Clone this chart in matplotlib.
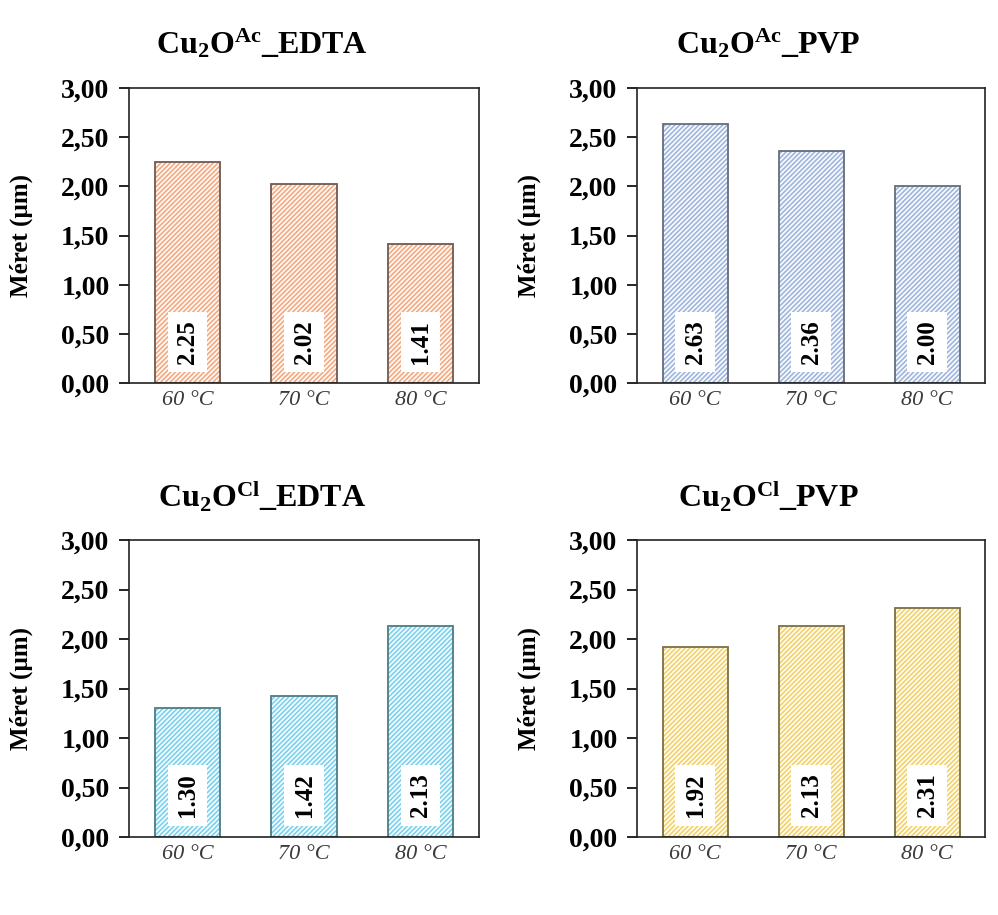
import matplotlib
matplotlib.use("Agg")
import matplotlib.pyplot as plt
import numpy as np

# Particle size (µm) vs. synthesis temperature for the four Cu2O samples
temperatures = ["60 °C", "70 °C", "80 °C"]
ac_edta = [2.25, 2.02, 1.41]
ac_pvp = [2.63, 2.36, 2.00]
cl_edta = [1.30, 1.42, 2.13]
cl_pvp = [1.92, 2.13, 2.31]

titles = [r"Cu$_{\mathrm{2}}$O$^{\mathrm{Ac}}$_EDTA",
          r"Cu$_{\mathrm{2}}$O$^{\mathrm{Ac}}$_PVP",
          r"Cu$_{\mathrm{2}}$O$^{\mathrm{Cl}}$_EDTA",
          r"Cu$_{\mathrm{2}}$O$^{\mathrm{Cl}}$_PVP"]
series = [ac_edta, ac_pvp, cl_edta, cl_pvp]
hatch_colors = ["#f4ac85", "#a3b8de", "#7fd3ee", "#f2d370"]
edge_colors = ["#6e5a52", "#646d7a", "#4d7c84", "#7a7046"]

yticks = [0.0, 0.5, 1.0, 1.5, 2.0, 2.5, 3.0]
ytick_labels = [f"{t:.2f}".replace(".", ",") for t in yticks]

plt.rcParams["font.family"] = "Liberation Serif"
plt.rcParams["mathtext.fontset"] = "custom"
plt.rcParams["mathtext.rm"] = "Liberation Serif:bold"
plt.rcParams["mathtext.it"] = "Liberation Serif:bold:italic"
plt.rcParams["mathtext.bf"] = "Liberation Serif:bold"
plt.rcParams["hatch.linewidth"] = 1.3

fig = plt.figure(figsize=(9.98, 9.15), dpi=100)

# axes rectangles: [left, bottom, width, height]
positions = [
    [0.1293, 0.5814, 0.3507, 0.3224],
    [0.6383, 0.5814, 0.3487, 0.3224],
    [0.1293, 0.0852, 0.3507, 0.3246],
    [0.6383, 0.0852, 0.3487, 0.3246],
]
# chart titles sit centred on the whole panel (x) at a fixed baseline (y)
title_xy = [(0.2625, 0.942), (0.7695, 0.942), (0.2625, 0.4455), (0.7695, 0.4455)]

x = np.arange(len(temperatures))
for pos, txy, title, vals, hc, ec in zip(positions, title_xy, titles, series,
                                          hatch_colors, edge_colors):
    ax = fig.add_axes(pos)
    # hatched fill, then a dark outline on top
    ax.bar(x, vals, width=0.56, color="white", edgecolor=hc, hatch="///////", linewidth=0)
    ax.bar(x, vals, width=0.56, fill=False, edgecolor=ec, linewidth=1.3)
    for xi, v in zip(x, vals):
        ax.text(xi, 0.42, f"{v:.2f}", rotation=90, ha="center", va="center",
                fontsize=18, fontweight="bold",
                bbox=dict(facecolor="white", edgecolor="none", pad=6))
    ax.set_xlim(-0.5, 2.5)
    ax.set_ylim(0, 3)
    ax.set_yticks(yticks)
    ax.set_yticklabels(ytick_labels, fontsize=20, fontweight="bold")
    ax.set_xticks(x)
    ax.set_xticklabels(temperatures, fontsize=16, fontstyle="italic", color="#3a3a3a")
    ax.tick_params(axis="y", direction="out", length=7, width=1.2, pad=7)
    ax.tick_params(axis="x", length=0, pad=6)
    for s in ax.spines.values():
        s.set_linewidth(1.2)
        s.set_color("#222222")
    ax.set_ylabel("Méret (µm)", fontsize=18, fontweight="bold", labelpad=20)
    fig.text(txy[0], txy[1], title, fontsize=23, fontweight="bold",
             ha="center", va="baseline")

fig.savefig("out.png", dpi=100)
